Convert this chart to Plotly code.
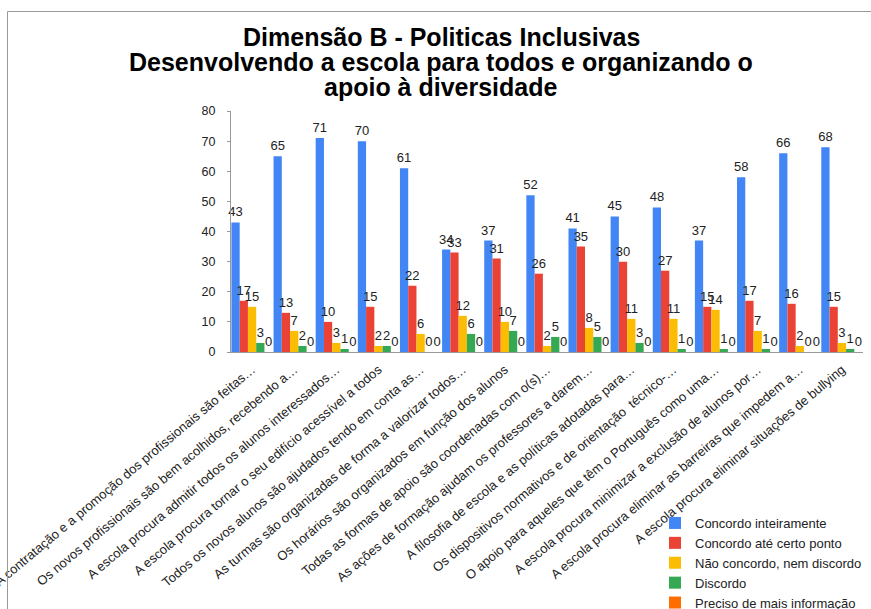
import plotly.graph_objects as go

categories = [
    "A contratação e a promoção dos profissionais são feitas…",
    "Os novos profissionais são bem acolhidos, recebendo a…",
    "A escola procura admitir todos os alunos interessados…",
    "A escola procura tornar o seu edifício acessível a todos",
    "Todos os novos alunos são ajudados tendo em conta as…",
    "As turmas são organizadas de forma a valorizar todos…",
    "Os horários são organizados em função dos alunos",
    "Todas as formas de apoio são coordenadas com o(s)…",
    "As ações de formação ajudam os professores a darem…",
    "A filosofia de escola e as políticas adotadas para…",
    "Os dispositivos normativos e de orientação  técnico-…",
    "O apoio para aqueles que têm o Português como uma…",
    "A escola procura minimizar a exclusão de alunos por…",
    "A escola procura eliminar as barreiras que impedem a…",
    "A escola procura eliminar situações de bullying",
]

concordo_inteiramente = [43, 65, 71, 70, 61, 34, 37, 52, 41, 45, 48, 37, 58, 66, 68]
concordo_ate_certo_ponto = [17, 13, 10, 15, 22, 33, 31, 26, 35, 30, 27, 15, 17, 16, 15]
nao_concordo_nem_discordo = [15, 7, 3, 2, 6, 12, 10, 2, 8, 11, 11, 14, 7, 2, 3]
discordo = [3, 2, 1, 2, 0, 6, 7, 5, 5, 3, 1, 1, 1, 0, 1]
preciso_mais_informacao = [0, 0, 0, 0, 0, 0, 0, 0, 0, 0, 0, 0, 0, 0, 0]

title_lines = [
    "Dimensão B - Politicas Inclusivas",
    "Desenvolvendo a escola para todos e organizando o",
    "apoio à diversidade",
]

series = [
    ("Concordo inteiramente", concordo_inteiramente, "#4285F4"),
    ("Concordo até certo ponto", concordo_ate_certo_ponto, "#EA4335"),
    ("Não concordo, nem discordo", nao_concordo_nem_discordo, "#FBBC04"),
    ("Discordo", discordo, "#34A853"),
    ("Preciso de mais informação", preciso_mais_informacao, "#FF6D01"),
]

FONT = "Liberation Sans, Arial, sans-serif"

fig = go.Figure()
for name, vals, color in series:
    fig.add_trace(go.Bar(
        x=categories, y=vals, name=name,
        marker=dict(color=color, line=dict(width=0)),
        text=[str(v) for v in vals], textposition="outside",
        constraintext="none", cliponaxis=False,
        textfont=dict(family=FONT, size=13, color="#222222"),
    ))

W, H = 871, 609
L, R, T, B = 231, 8, 111, 257
pw, ph = W - L - R, H - T - B

def px_x(x):
    return (x - L) / pw

def px_y(y):
    return (H - B - y) / ph

annotations = []
for line, yc in zip(title_lines, [37, 62, 87]):
    annotations.append(dict(
        text=line, xref="paper", yref="paper",
        x=px_x(441), y=px_y(yc), xanchor="center", yanchor="middle",
        showarrow=False,
        font=dict(family=FONT, size=25, color="#000000", weight="bold"),
    ))

fig.update_layout(
    width=W, height=H,
    margin=dict(l=L, r=R, t=T, b=B, autoexpand=False),
    paper_bgcolor="white", plot_bgcolor="white",
    barmode="group", bargap=0.02, bargroupgap=0,
    font=dict(family=FONT, color="#222222"),
    annotations=annotations,
    xaxis=dict(
        tickangle=-40, showline=True, linecolor="#999999", linewidth=1,
        ticks="", tickfont=dict(size=13, color="#222222"), ticklabelstandoff=4,
        showgrid=False, automargin=False,
    ),
    yaxis=dict(
        range=[0, 80], dtick=10, showline=True, linecolor="#999999", linewidth=1,
        ticks="outside", ticklen=3, tickcolor="#999999", ticklabelstandoff=9,
        tickfont=dict(size=12.5, color="#222222"), showgrid=False, zeroline=False,
        automargin=False,
    ),
    legend=dict(
        x=655 / W, xanchor="left", xref="container",
        y=1 - 508 / H, yanchor="top", yref="container",
        bgcolor="rgba(0,0,0,0)", font=dict(size=13, color="#222222"),
        itemwidth=30, tracegroupgap=0,
    ),
    showlegend=True,
    shapes=[
        dict(type="line", xref="paper", yref="paper",
             x0=px_x(7.5), x1=px_x(7.5), y0=px_y(11.5), y1=px_y(620),
             line=dict(color="#999999", width=1)),
        dict(type="line", xref="paper", yref="paper",
             x0=px_x(7.5), x1=px_x(880), y0=px_y(11.5), y1=px_y(11.5),
             line=dict(color="#999999", width=1)),
    ],
)

fig.write_html("out.html", config={"displayModeBar": False})

# remove the browser's default 8px body margin so the figure sits at the top-left corner
with open("out.html", "r", encoding="utf-8") as f:
    html = f.read()
html = html.replace("<body>", '<body style="margin:0;padding:0;overflow:hidden">', 1)
with open("out.html", "w", encoding="utf-8") as f:
    f.write(html)
